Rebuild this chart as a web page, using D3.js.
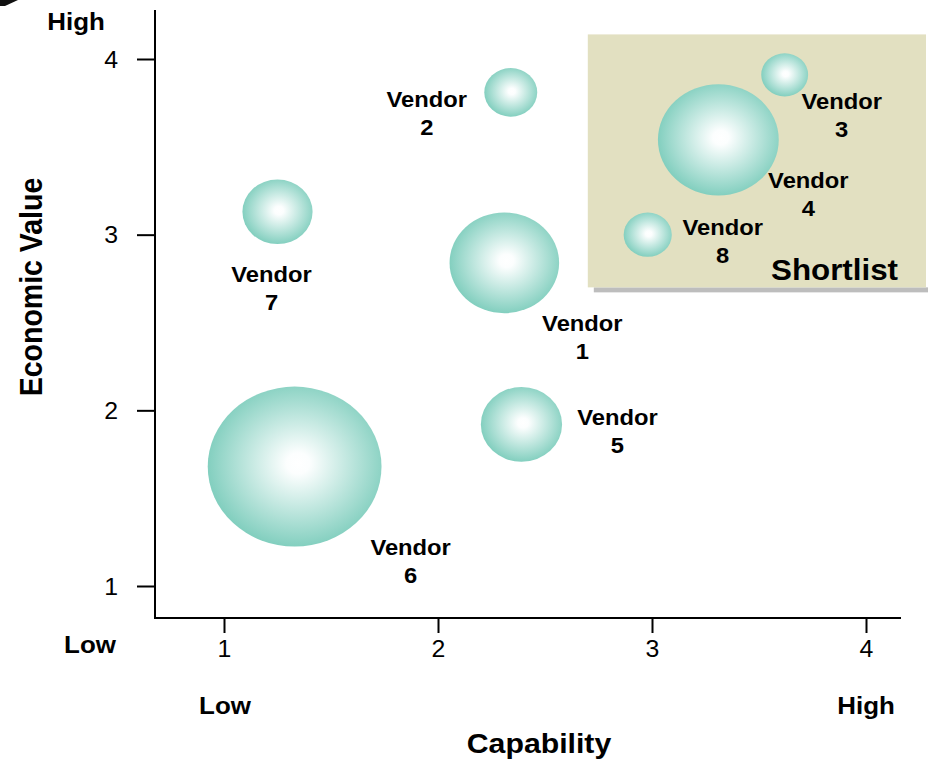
<!DOCTYPE html>
<html>
<head>
<meta charset="utf-8">
<script src="https://cdn.jsdelivr.net/npm/d3@7/dist/d3.min.js"></script>
<style>
  html, body { margin: 0; padding: 0; background: #fff; }
  svg { display: block; font-family: "Liberation Sans", Arial, sans-serif; }
</style>
</head>
<body>
<svg id="chart" width="928" height="761"></svg>
<script>
// Vendor assessment: capability (x) vs economic value (y), bubble size = deal size
const vendors      = ["1", "2", "3", "4", "5", "6", "7", "8"];
const capability   = [2.31, 2.34, 3.62, 3.31, 2.39, 1.33, 1.25, 2.98];
const econValue    = [2.84, 3.81, 3.91, 3.54, 1.92, 1.68, 3.13, 3.00];
const bubbleSize   = [30.0, 7.0, 5.5, 36.5, 16.5, 75.5, 12.3, 5.8];
const xTicks       = [1, 2, 3, 4];
const yTicks       = [1, 2, 3, 4];
const shortlistBox = { x0: 2.70, y0: 2.70, y1: 4.14 };

// label placement relative to each bubble centre (px)
const labelOffset = [[78, 60], [-84, 7], [57, 26], [90, 40], [96, -7], [116, 80], [-6, 62], [75, -8]];

const svg = d3.select("#chart");
const W = 928, H = 761;
const SX = 1.08; // lettering is set slightly wide

const x = d3.scaleLinear().domain([1, 4]).range([224, 866]);
const y = d3.scaleLinear().domain([1, 4]).range([586, 59]);
const r = d3.scaleSqrt().domain([0, 100]).range([0, 100]);
const aspect = 0.92; // bubbles are drawn slightly wider than tall

const axisLeftX = 155, axisBottomY = 618;

// places a wide-set text at (px, py)
function wideText(sel, px, py) {
  return sel.attr("x", 0).attr("y", 0)
    .attr("transform", (d, i, n) => {
      const X = typeof px === "function" ? px(d, i, n) : px;
      const Y = typeof py === "function" ? py(d, i, n) : py;
      return `translate(${X},${Y}) scale(${SX},1)`;
    });
}

// small black arrowhead in the corner
svg.append("path")
  .attr("d", "M0,0 L18,0 L5,6 L0,6 Z")
  .attr("fill", "#111");

// gradient for the bubbles
const defs = svg.append("defs");
const grad = defs.append("radialGradient")
  .attr("id", "bubbleFill")
  .attr("cx", "52%").attr("cy", "48%").attr("r", "55%");
grad.append("stop").attr("offset", "0%").attr("stop-color", "#ffffff");
grad.append("stop").attr("offset", "12%").attr("stop-color", "#fcfefe");
grad.append("stop").attr("offset", "100%").attr("stop-color", "#7bccbb");

// shortlist area
const bx = x(shortlistBox.x0), by = y(shortlistBox.y1), bh = y(shortlistBox.y0) - y(shortlistBox.y1);
svg.append("rect")
  .attr("x", bx + 6).attr("y", by + bh).attr("width", W - bx).attr("height", 5)
  .attr("fill", "#bdbdbd");
svg.append("rect")
  .attr("x", bx).attr("y", by).attr("width", W - 2 - bx).attr("height", bh)
  .attr("fill", "#e2e0c1");
wideText(svg.append("text"), 898, 280)
  .attr("text-anchor", "end")
  .attr("font-size", 29).attr("font-weight", "bold")
  .text("Shortlist");

// axes
const xAxis = d3.axisBottom(x).tickValues(xTicks).tickFormat(d3.format("d"))
  .tickSize(15).tickSizeOuter(0).tickPadding(8);
const yAxis = d3.axisLeft(y).tickValues(yTicks).tickFormat(d3.format("d"))
  .tickSize(18).tickSizeOuter(0).tickPadding(19);

const gx = svg.append("g").attr("transform", `translate(0,${axisBottomY})`).call(xAxis);
const gy = svg.append("g").attr("transform", `translate(${axisLeftX},0)`).call(yAxis);
[gx, gy].forEach(g => {
  g.select(".domain").remove();
  g.selectAll(".tick line").attr("stroke", "#000").attr("stroke-width", 2);
  g.selectAll(".tick text")
    .attr("fill", "#000")
    .attr("font-size", 23)
    .attr("font-family", "Liberation Sans, Arial, sans-serif");
});
wideText(gx.selectAll(".tick text"), 0, 23);
wideText(gy.selectAll(".tick text"), -37, 0).attr("dy", "0.36em");

svg.append("line")
  .attr("x1", axisLeftX).attr("x2", 901)
  .attr("y1", axisBottomY).attr("y2", axisBottomY)
  .attr("stroke", "#000").attr("stroke-width", 2);
svg.append("line")
  .attr("x1", axisLeftX).attr("x2", axisLeftX)
  .attr("y1", 10).attr("y2", axisBottomY + 1)
  .attr("stroke", "#000").attr("stroke-width", 2);

// bubbles
const data = vendors.map((v, i) => ({
  name: v, cx: x(capability[i]), cy: y(econValue[i]), rad: r(bubbleSize[i]),
  off: labelOffset[i]
}));

svg.append("g").selectAll("ellipse")
  .data(data)
  .join("ellipse")
  .attr("cx", d => d.cx).attr("cy", d => d.cy)
  .attr("rx", d => d.rad).attr("ry", d => d.rad * aspect)
  .attr("fill", "url(#bubbleFill)");

// vendor labels
const lab = wideText(
  svg.append("g").selectAll("text").data(data).join("text"),
  d => d.cx + d.off[0], d => d.cy + d.off[1] + 8)
  .attr("text-anchor", "middle")
  .attr("font-size", 22).attr("font-weight", "bold");
lab.append("tspan").text("Vendor");
lab.append("tspan")
  .attr("x", 0).attr("dy", 28)
  .text(d => d.name);

// axis end labels
const endLabels = [
  { t: "High", x: 76, y: 30 },
  { t: "Low", x: 90, y: 653 },
  { t: "Low", x: 225, y: 714 },
  { t: "High", x: 866, y: 714 }
];
wideText(svg.append("g").selectAll("text").data(endLabels).join("text"),
  d => d.x, d => d.y)
  .attr("text-anchor", "middle")
  .attr("font-size", 24).attr("font-weight", "bold")
  .text(d => d.t);

// axis titles
wideText(svg.append("text"), 539, 753)
  .attr("text-anchor", "middle")
  .attr("font-size", 28).attr("font-weight", "bold")
  .text("Capability");
svg.append("text")
  .attr("transform", `translate(42,287) rotate(-90) scale(1,${SX})`)
  .attr("text-anchor", "middle")
  .attr("font-size", 28.5).attr("font-weight", "bold")
  .text("Economic Value");
</script>
</body>
</html>
